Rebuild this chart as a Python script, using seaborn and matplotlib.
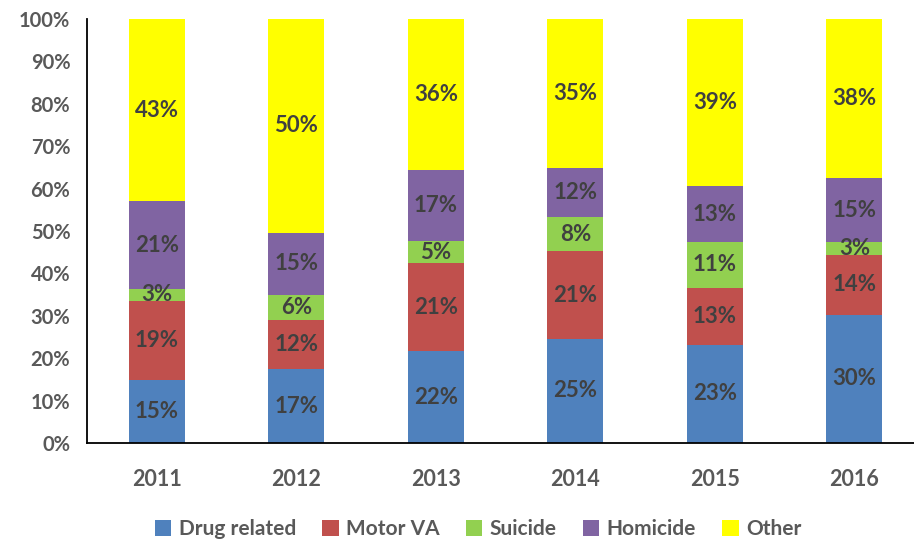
import matplotlib
matplotlib.use("Agg")
import matplotlib.pyplot as plt
import seaborn as sns
import pandas as pd
import numpy as np
from matplotlib.patches import Patch

years = ["2011", "2012", "2013", "2014", "2015", "2016"]
causes = ["Drug related", "Motor VA", "Suicide", "Homicide", "Other"]
drug_related = [14.9, 17.4, 21.7, 24.6, 23.2, 30.2]
motor_va = [18.6, 11.6, 20.7, 20.6, 13.4, 14.2]
suicide = [2.9, 6.0, 5.3, 8.0, 10.8, 2.9]
homicide = [20.6, 14.6, 16.6, 11.6, 13.2, 15.1]
other = [43.0, 50.4, 35.7, 35.2, 39.4, 37.6]
colors = ["#4F81BD", "#C0504D", "#92D050", "#8064A2", "#FFFF00"]

series = [drug_related, motor_va, suicide, homicide, other]
df = pd.DataFrame({"year": np.repeat([years], len(causes), axis=0).ravel(),
                   "cause": np.repeat(causes, len(years)),
                   "value": np.concatenate(series)})

sns.set_style("white")
plt.rcParams['font.family'] = ['Lato', 'DejaVu Sans']

fig = plt.figure(figsize=(9.14, 5.40), dpi=100)
ax = fig.add_axes([0.0952, 0.1796, 0.9158, 0.7852])

bottom = np.zeros(len(years))
for cause, col in zip(causes, colors):
    sub = df[df["cause"] == cause]
    sns.barplot(data=sub, x="year", y="value", order=years, color=col,
                bottom=bottom.copy(), width=0.4, ax=ax, errorbar=None,
                saturation=1, linewidth=0)
    vals = sub["value"].to_numpy()
    for i, v in enumerate(vals):
        ax.text(i, bottom[i] + v / 2, f"{int(v + 0.5)}%", ha="center", va="center",
                fontsize=16, fontweight="bold", color="#404040")
    bottom += vals

ax.set_ylim(0, 100)
ax.set_xlim(-0.5, 5.5)
ax.set_yticks(np.arange(0, 101, 10))
ax.set_yticklabels([f"{t}%" for t in range(0, 101, 10)])
ax.set_xticks(np.arange(-0.5, 6.0, 1.0))
ax.set_xticklabels([])
ax.set_xticks(np.arange(6), minor=True)
ax.set_xticklabels(years, minor=True)
ax.tick_params(axis="x", which="major", direction="out", length=6, width=1.3, color="black")
ax.tick_params(axis="x", which="minor", length=0, pad=19, labelsize=15.5, labelcolor="#595959")
ax.tick_params(axis="y", direction="out", length=6, width=1.3, color="black",
               labelsize=14.5, labelcolor="#595959", pad=6)
for lab in ax.get_xticklabels(minor=True) + ax.get_yticklabels():
    lab.set_fontweight("bold")
ax.set_xlabel("")
ax.set_ylabel("")
for s in ["top", "right"]:
    ax.spines[s].set_visible(False)
for s in ["left", "bottom"]:
    ax.spines[s].set_color("black")
    ax.spines[s].set_linewidth(1.3)
ax.grid(False)

handles = [Patch(facecolor=c, edgecolor="none") for c in colors]
leg = fig.legend(handles, causes, loc="center", bbox_to_anchor=(0.523, 0.02),
                 ncol=5, frameon=False, handlelength=0.8, handleheight=0.8,
                 handletextpad=0.35, columnspacing=1.25,
                 prop={"size": 15, "weight": "bold"})
for t in leg.get_texts():
    t.set_color("#595959")

fig.savefig("out.png", dpi=100)
